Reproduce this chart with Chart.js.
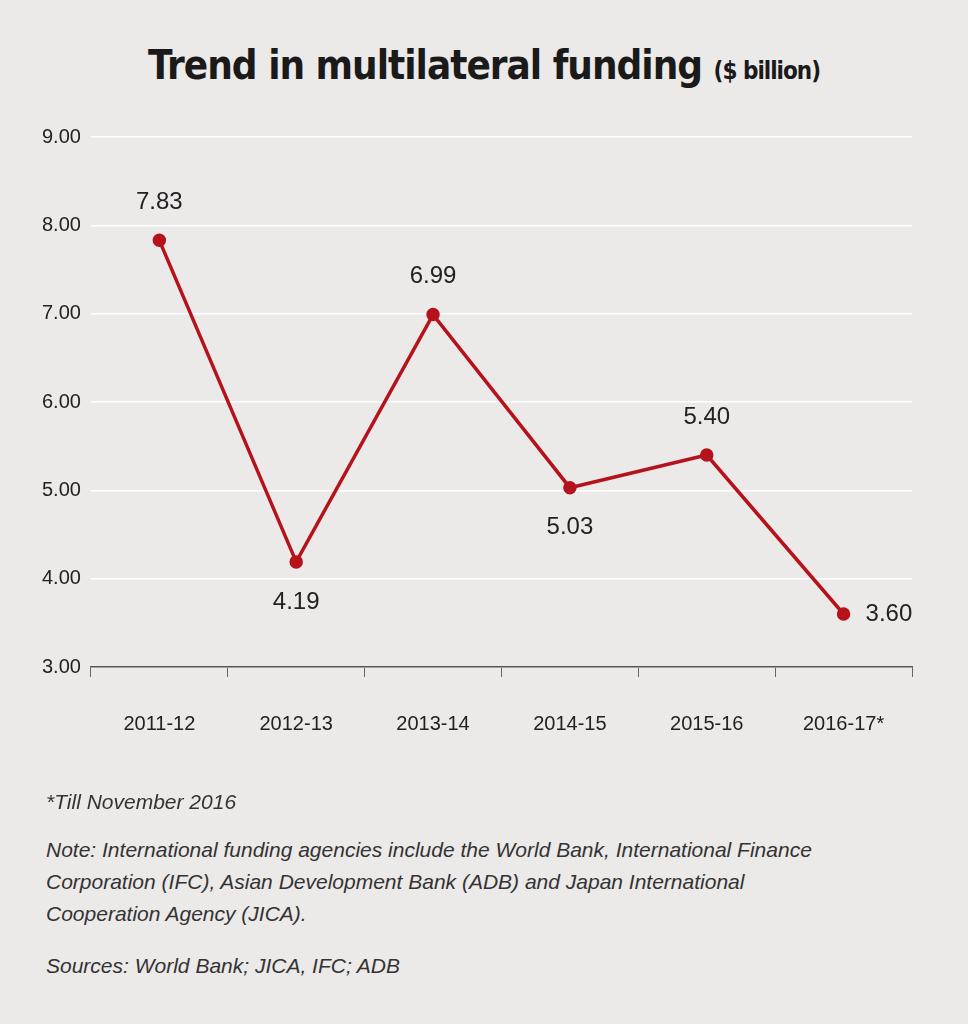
<!DOCTYPE html>
<html>
<head>
<meta charset="utf-8">
<script src="https://cdn.jsdelivr.net/npm/chart.js@4"></script>
<style>
  body { margin:0; background:#ecE9e9; width:968px; height:1024px; position:relative; overflow:hidden; font-family:"Liberation Sans", Arial, sans-serif; }
  #title { position:absolute; top:42px; left:0; width:968px; text-align:center; font-family:"DejaVu Sans Condensed","DejaVu Sans",sans-serif; font-weight:bold; font-size:40px; color:#1a1a1a; letter-spacing:-1px; }
  #title span { font-size:24px; }
  #wrap { position:absolute; top:0; left:0; width:968px; height:802px; }
  .note { position:absolute; left:46px; font-style:italic; font-size:21px; color:#333; line-height:32px; width:800px; }
</style>
</head>
<body>
<div id="title">Trend in multilateral funding <span>($ billion)</span></div>
<div id="wrap"><canvas id="chart"></canvas></div>
<div class="note" style="top:786px">*Till November 2016</div>
<div class="note" style="top:834px">Note: International funding agencies include the World Bank, International Finance Corporation (IFC), Asian Development Bank (ADB) and Japan International Cooperation Agency (JICA).</div>
<div class="note" style="top:950px">Sources: World Bank; JICA, IFC; ADB</div>
<script>
//============================ DATA ============================
var years = ["2011-12","2012-13","2013-14","2014-15","2015-16","2016-17*"];
var funding = [7.83, 4.19, 6.99, 5.03, 5.40, 3.60];
var labelPlace = ["above","below","above","below","above","right"];

//============================ LABELS ==========================
var valueLabels = {
  id: 'valueLabels',
  afterDatasetsDraw: function(chart) {
    var ctx = chart.ctx;
    var meta = chart.getDatasetMeta(0);
    ctx.save();
    ctx.font = '24px "Liberation Sans", Arial, sans-serif';
    ctx.fillStyle = '#222';
    meta.data.forEach(function(pt, i) {
      var txt = funding[i].toFixed(2);
      var p = labelPlace[i];
      ctx.textBaseline = 'middle';
      if (p == "right") { ctx.textAlign = 'left'; ctx.fillText(txt, pt.x + 22, pt.y); }
      else {
        ctx.textAlign = 'center';
        ctx.fillText(txt, pt.x, p == "above" ? pt.y - 38 : pt.y + 40);
      }
    });
    ctx.restore();
  }
};

//============================ CHART ===========================
new Chart(document.getElementById("chart"), {
  type: 'line',
  data: {
    labels: years,
    datasets: [{
      data: funding,
      borderColor: "#b5121b",
      backgroundColor: "#b5121b",
      borderWidth: 3.5,
      pointRadius: 5,
      tension: 0,
      fill: false
    }]
  },
  plugins: [valueLabels],
  options: {
    responsive: true,
    maintainAspectRatio: false,
    animation: false,
    layout: { padding: { top: 137, left: 32, right: 56, bottom: 31 } },
    plugins: { legend: { display: false }, tooltip: { enabled: false } },
    scales: {
      x: {
        offset: true,
        grid: { offset: true, drawOnChartArea: false, drawTicks: true, tickLength: 10, color: '#666' },
        border: { display: true, color: '#555', width: 1.5 },
        ticks: { color: '#222', padding: 35, font: { size: 20, family: '"Liberation Sans", Arial, sans-serif' } }
      },
      y: {
        min: 3, max: 9,
        ticks: { stepSize: 1, color: '#222', padding: 10, callback: function(v) { return v.toFixed(2); },
                 font: { size: 20, family: '"Liberation Sans", Arial, sans-serif' } },
        grid: { color: '#ffffff', lineWidth: 1.5, drawTicks: false },
        border: { display: false }
      }
    }
  }
});
</script>
</body>
</html>
